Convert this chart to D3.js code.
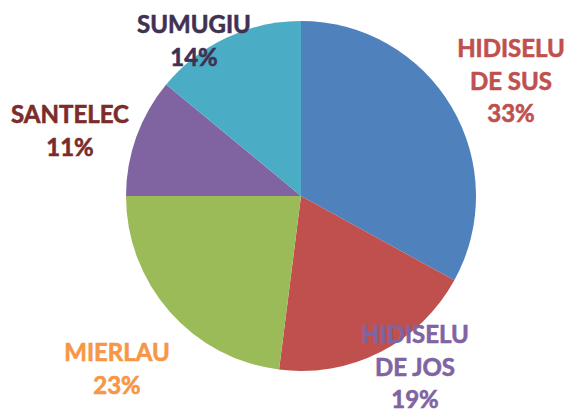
<!DOCTYPE html>
<html>
<head>
<meta charset="utf-8">
<script src="https://cdn.jsdelivr.net/npm/d3@7"></script>
<style>
  body { margin: 0; background: #fff; }
  text { font-family: Lato, "Open Sans", sans-serif; font-weight: 700; }
</style>
</head>
<body>
<svg id="chart" width="564" height="409"></svg>
<script>
// data
var names = ["HIDISELU DE SUS", "HIDISELU DE JOS", "MIERLAU", "SANTELEC", "SUMUGIU"],
    nameLines = [["HIDISELU", "DE SUS"], ["HIDISELU", "DE JOS"], ["MIERLAU"], ["SANTELEC"], ["SUMUGIU"]],
    values = [33, 19, 23, 11, 14];

var sliceColours = ["#4f81bd", "#c0504d", "#9bbb59", "#8064a2", "#4bacc6"],
    labelColours = ["#c0504d", "#8064a2", "#f79646", "#7b2c2a", "#403152"],
    // label anchor (centre x, first baseline y)
    labelPos = [[511, 57], [415, 343], [117, 361], [70, 123], [194, 33]],
    lineGap = 32.5,
    cx = 301, cy = 196, radius = 175;

var svg = d3.select("#chart");

var pie = d3.pie().sort(null).value(function(d) { return d; }),
    arc = d3.arc().innerRadius(0).outerRadius(radius);

var g = svg.append("g").attr("transform", "translate(" + cx + "," + cy + ")");

g.selectAll("path")
    .data(pie(values))
    .enter().append("path")
    .attr("d", arc)
    .attr("fill", function(d, i) { return sliceColours[i]; });

var labels = svg.selectAll("g.label")
    .data(names)
    .enter().append("g")
    .classed("label", true)
    .attr("fill", function(d, i) { return labelColours[i]; })
    .attr("stroke", function(d, i) { return labelColours[i]; })
    .attr("stroke-width", 0.6);

labels.each(function(d, i) {
    var lines = nameLines[i].concat([values[i] + "%"]),
        sel = d3.select(this);
    lines.forEach(function(t, j) {
        sel.append("text")
            .attr("x", labelPos[i][0])
            .attr("y", labelPos[i][1] + j * lineGap)
            .attr("text-anchor", "middle")
            .attr("font-size", 24)
            .text(t);
    });
});
</script>
</body>
</html>
